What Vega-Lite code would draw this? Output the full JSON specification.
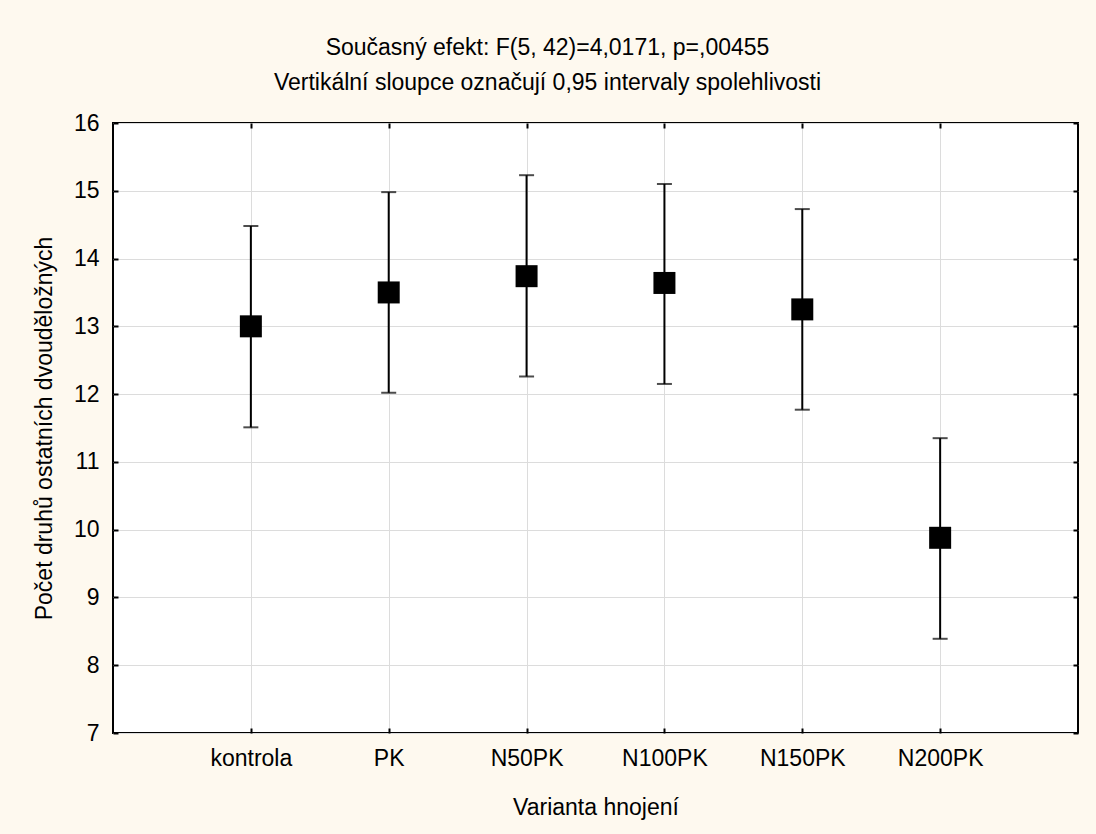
{
  "$schema": "https://vega.github.io/schema/vega-lite/v6.json",
  "width": 965,
  "height": 610,
  "autosize": {"type": "none"},
  "padding": {"left": 113, "top": 123, "right": 18, "bottom": 101},
  "background": "#FEF9EF",
  "title": {
    "text": ["Současný efekt: F(5, 42)=4,0171, p=,00455", "Vertikální sloupce označují 0,95 intervaly spolehlivosti"],
    "anchor": "middle",
    "frame": "group",
    "dx": -48,
    "fontSize": 23,
    "font": "Liberation Sans",
    "fontWeight": "normal",
    "color": "black",
    "lineHeight": 35,
    "offset": 17
  },
  "data": {
    "values": [
      {"varianta": "kontrola", "mean": 13.0, "low": 11.51, "high": 14.48},
      {"varianta": "PK", "mean": 13.5, "low": 12.02, "high": 14.98},
      {"varianta": "N50PK", "mean": 13.74, "low": 12.26, "high": 15.23},
      {"varianta": "N100PK", "mean": 13.64, "low": 12.15, "high": 15.1},
      {"varianta": "N150PK", "mean": 13.25, "low": 11.77, "high": 14.73},
      {"varianta": "N200PK", "mean": 9.88, "low": 8.39, "high": 11.35}
    ]
  },
  "config": {
    "view": {"fill": "white", "stroke": "black", "strokeWidth": 2},
    "axis": {
      "labelFont": "Liberation Sans",
      "titleFont": "Liberation Sans",
      "labelFontSize": 23,
      "titleFontSize": 23,
      "titleFontWeight": "normal",
      "labelColor": "black",
      "titleColor": "black",
      "domain": false,
      "gridColor": "#dcdcdc",
      "gridWidth": 1,
      "tickColor": "black",
      "tickWidth": 2,
      "tickSize": -5
    }
  },
  "resolve": {"axis": {"x": "independent", "y": "independent"}},
  "layer": [
    {
      "mark": {"type": "rule", "color": "black", "strokeWidth": 2},
      "encoding": {
        "x": {
          "field": "varianta", "type": "nominal", "sort": null,
          "scale": {"type": "point", "padding": 1},
          "axis": {"orient": "bottom", "title": "Varianta hnojení", "grid": true, "labelAngle": 0, "labelPadding": 19, "titlePadding": 26}
        },
        "y": {
          "field": "low", "type": "quantitative",
          "scale": {"domain": [7, 16], "nice": false, "zero": false},
          "axis": {"orient": "left", "title": "Počet druhů ostatních dvouděložných", "grid": true, "values": [7, 8, 9, 10, 11, 12, 13, 14, 15, 16], "labelPadding": 19, "titlePadding": 17}
        },
        "y2": {"field": "high"}
      }
    },
    {
      "mark": {"type": "tick", "color": "black", "size": 15, "thickness": 2},
      "encoding": {
        "x": {"field": "varianta", "type": "nominal", "sort": null, "axis": null},
        "y": {"field": "low", "type": "quantitative", "axis": null}
      }
    },
    {
      "mark": {"type": "tick", "color": "black", "size": 15, "thickness": 2},
      "encoding": {
        "x": {"field": "varianta", "type": "nominal", "sort": null, "axis": null},
        "y": {"field": "high", "type": "quantitative", "axis": null}
      }
    },
    {
      "mark": {"type": "point", "shape": "square", "filled": true, "size": 484, "color": "black", "opacity": 1},
      "encoding": {
        "x": {"field": "varianta", "type": "nominal", "sort": null,
          "axis": {"orient": "top", "labels": false, "title": null, "grid": false}},
        "y": {"field": "mean", "type": "quantitative",
          "axis": {"orient": "right", "labels": false, "title": null, "grid": false, "values": [7, 8, 9, 10, 11, 12, 13, 14, 15, 16]}}
      }
    }
  ]
}
